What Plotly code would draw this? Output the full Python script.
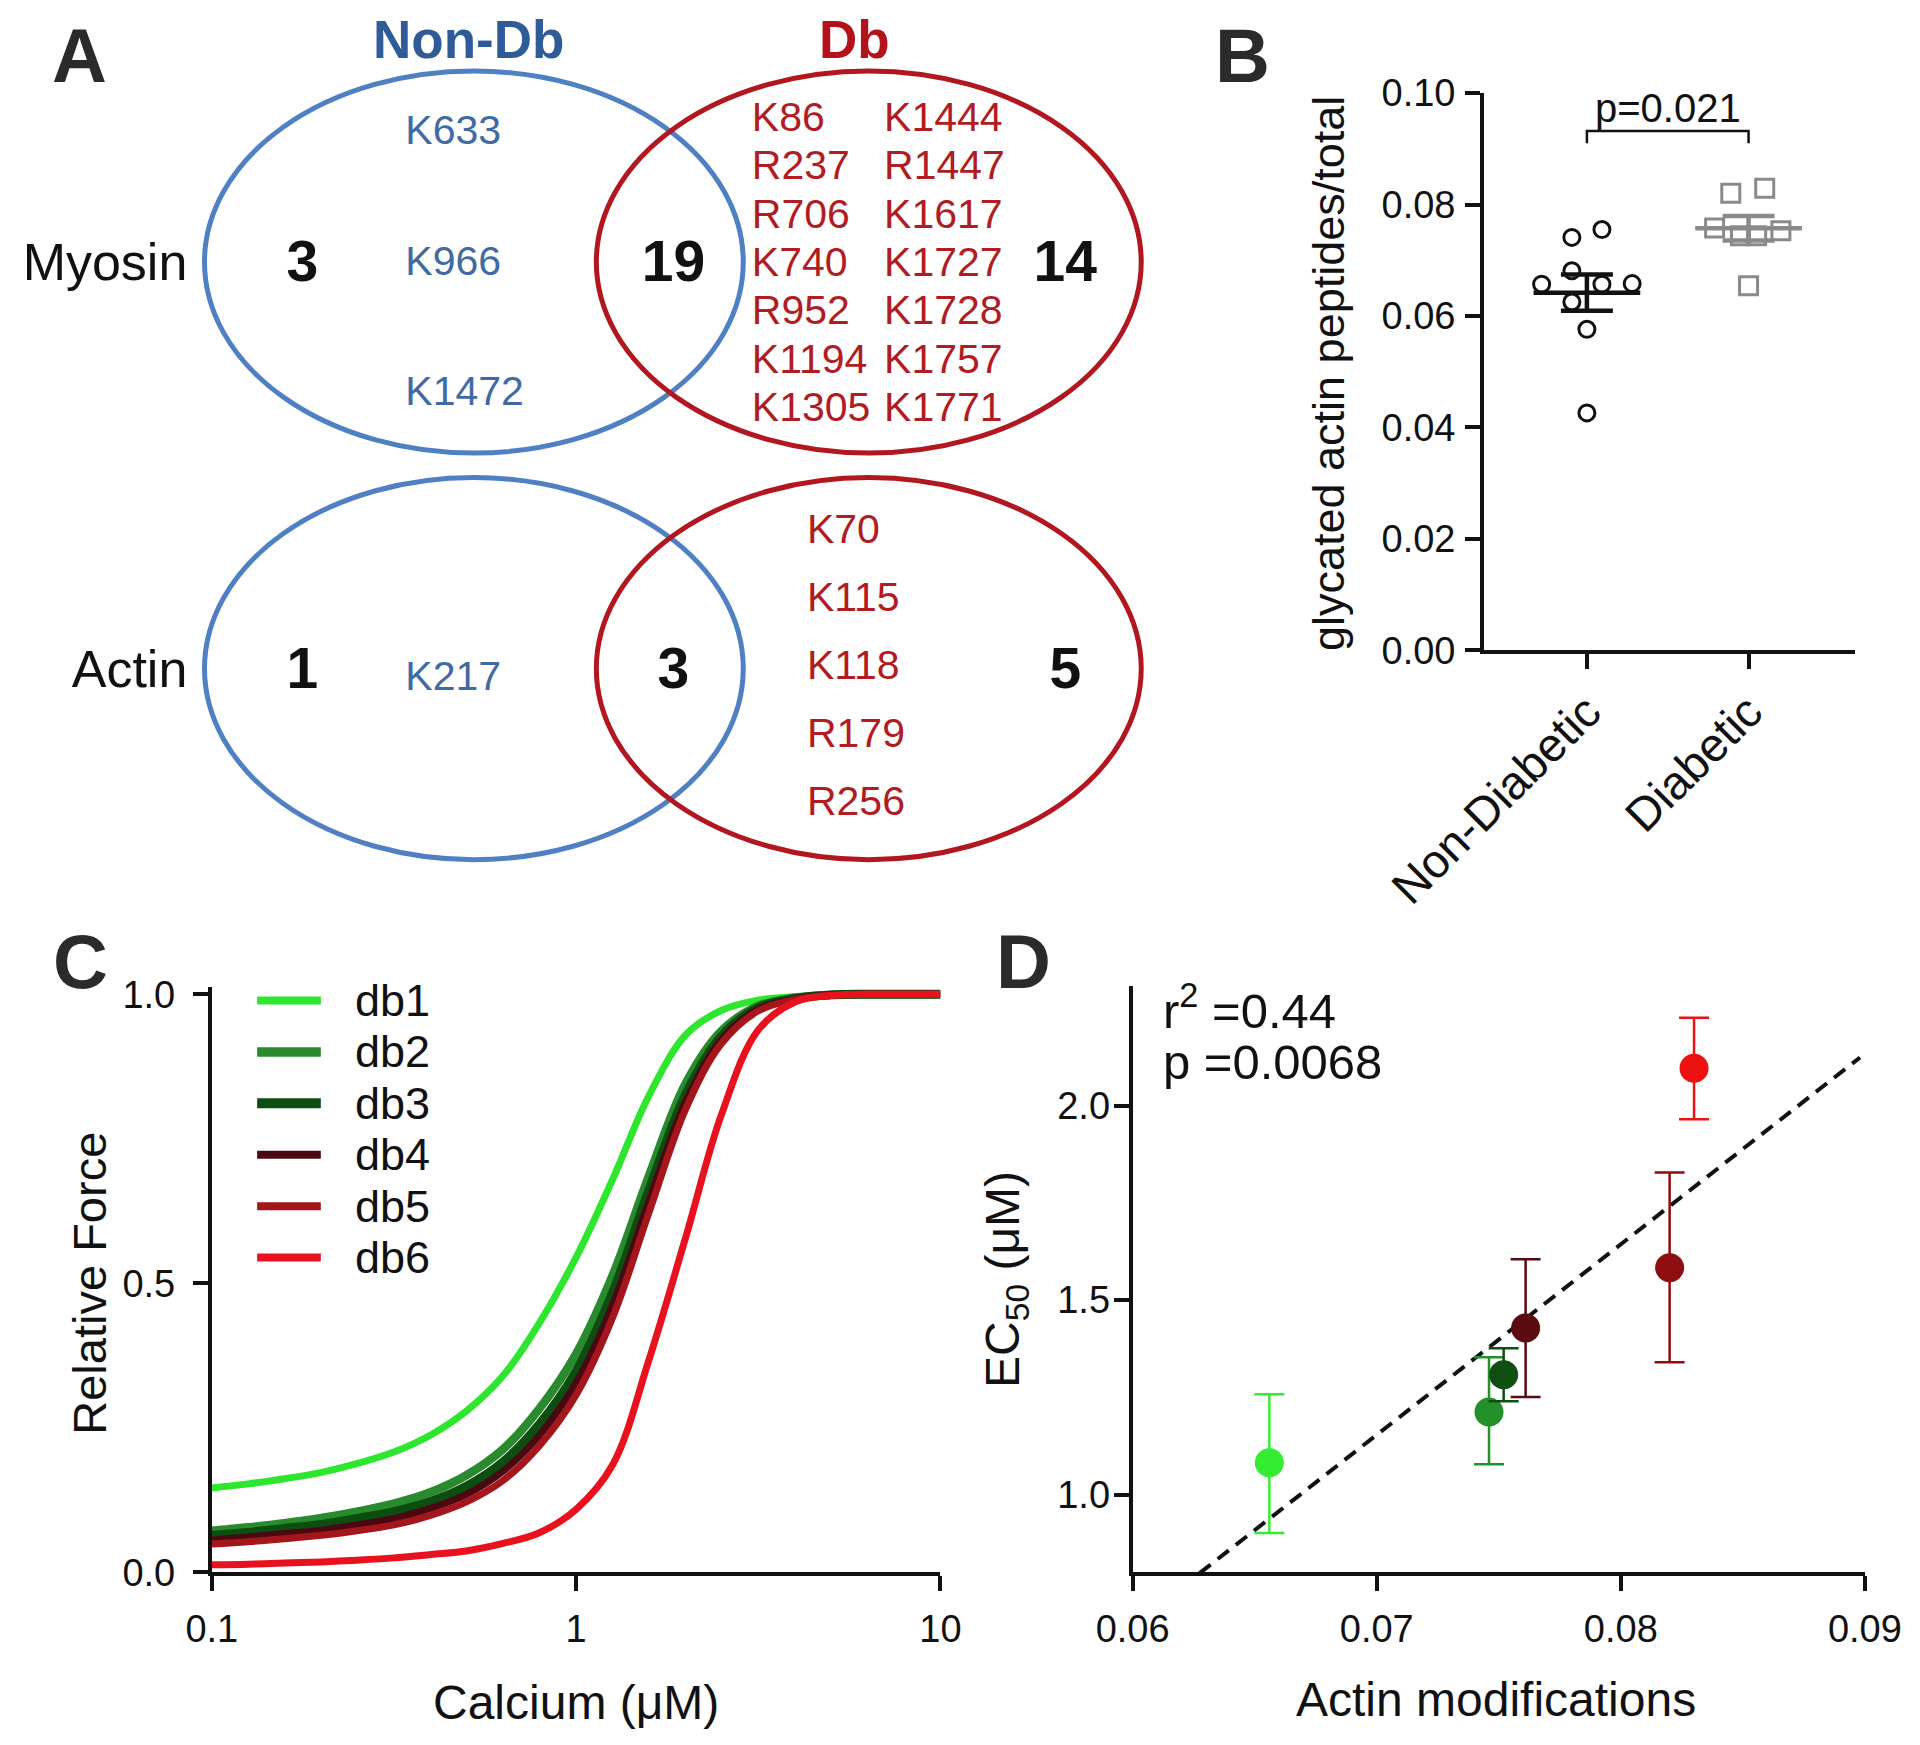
import numpy as np
import plotly.graph_objects as go

FONT = "Liberation Sans, Arial, Helvetica, sans-serif"
BLACK = "#111111"

# ---------------- Panel A : Venn diagrams (data) ----------------
venn_headers = ["Non-Db", "Db"]
venn_rows = ["Myosin", "Actin"]
myosin_counts = [3, 19, 14]          # Non-Db only, shared, Db only
actin_counts = [1, 3, 5]
myosin_nondb_sites = ["K633", "K966", "K1472"]
myosin_db_sites_col1 = ["K86", "R237", "R706", "K740", "R952", "K1194", "K1305"]
myosin_db_sites_col2 = ["K1444", "R1447", "K1617", "K1727", "K1728", "K1757", "K1771"]
actin_nondb_sites = ["K217"]
actin_db_sites = ["K70", "K115", "K118", "R179", "R256"]

# ---------------- Panel B : glycated actin (data) ----------------
group_labels = ["Non-Diabetic", "Diabetic"]
nondb_values = [0.0741, 0.0755, 0.0681, 0.0657, 0.0657, 0.0658, 0.0625, 0.0576, 0.0426]
db_values = [0.0820, 0.0829, 0.0758, 0.0753, 0.0744, 0.0744, 0.0654]
p_label = "p=0.021"
b_yticks = [0.00, 0.02, 0.04, 0.06, 0.08, 0.10]

# ---------------- Panel C : force-calcium curves (data) ----------------
series_names = ["db1", "db2", "db3", "db4", "db5", "db6"]
calcium_uM = [0.1, 0.126, 0.158, 0.2, 0.25, 0.316, 0.4, 0.5, 0.63, 0.79, 1.0,
              1.26, 1.58, 2.0, 2.5, 3.16, 4.0, 5.0, 6.3, 7.9, 10.0]
force_db1 = [0.146, 0.153, 0.162, 0.173, 0.188, 0.208, 0.238, 0.279, 0.340, 0.430, 0.545,
             0.680, 0.823, 0.930, 0.972, 0.990, 0.996, 0.999, 1.0, 1.0, 1.0]
force_db2 = [0.072, 0.078, 0.085, 0.094, 0.105, 0.119, 0.139, 0.168, 0.213, 0.282, 0.378,
             0.514, 0.684, 0.846, 0.936, 0.980, 0.994, 0.999, 1.0, 1.0, 1.0]
force_db3 = [0.064, 0.069, 0.076, 0.083, 0.093, 0.105, 0.123, 0.149, 0.191, 0.255, 0.348,
             0.484, 0.659, 0.827, 0.927, 0.977, 0.993, 0.999, 1.0, 1.0, 1.0]
force_db4 = [0.056, 0.061, 0.067, 0.073, 0.082, 0.093, 0.111, 0.135, 0.175, 0.236, 0.328,
             0.463, 0.640, 0.815, 0.921, 0.974, 0.992, 0.999, 1.0, 1.0, 1.0]
force_db5 = [0.049, 0.053, 0.058, 0.064, 0.072, 0.082, 0.099, 0.122, 0.159, 0.218, 0.307,
             0.441, 0.620, 0.802, 0.914, 0.971, 0.991, 0.998, 1.0, 1.0, 1.0]
force_db6 = [0.013, 0.014, 0.016, 0.018, 0.021, 0.025, 0.031, 0.037, 0.050, 0.068, 0.109,
             0.186, 0.365, 0.580, 0.790, 0.938, 0.987, 0.998, 1.0, 1.0, 1.0]
c_xticks = [0.1, 1, 10]
c_xticklabels = ["0.1", "1", "10"]
c_yticks = [0.0, 0.5, 1.0]

# ---------------- Panel D : EC50 vs actin modifications (data) ----------------
actin_mods = [0.0656, 0.0746, 0.0752, 0.0761, 0.0820, 0.0830]
ec50_uM = [1.082, 1.212, 1.308, 1.428, 1.583, 2.096]
ec50_err_plus = [0.176, 0.141, 0.068, 0.177, 0.245, 0.130]
ec50_err_minus = [0.181, 0.134, 0.068, 0.177, 0.243, 0.131]
stat_lines = ["r<sup>2</sup> =0.44", "p =0.0068"]
d_xticks = [0.06, 0.07, 0.08, 0.09]
d_yticks = [1.0, 1.5, 2.0]

# ---------------- styles ----------------
BLUE_LINE = "#5080c4"
BLUE_TEXT = "#3f6aa3"
BLUE_HEAD = "#2f5c98"
RED_LINE = "#b2161e"
RED_TEXT = "#b01c22"
curve_colors = ["#2ee62e", "#2a8a2e", "#0c4d10", "#4c0812", "#a3161c", "#e8121e"]
curve_widths = [7, 8.5, 9, 7, 7, 7]
point_colors = ["#35ec35", "#24902a", "#0f4f12", "#5a0a10", "#8e0e12", "#ee1111"]
nondb_offsets = [-0.093, 0.093, -0.093, -0.28, 0.093, 0.28, -0.093, 0.0, 0.0]
db_offsets = [-0.11, 0.10, -0.21, 0.20, -0.05, 0.05, 0.0]

fig = go.Figure()

# ======== Panel A (axes x5/y5 in a pixel-like frame) ========
row_y = [214, 546]
text_dy = 4
count_x = [247, 550, 870]
ell_blue = (167, 607)
ell_red = (487, 932)
ell_half_h = 156

for r, counts in enumerate([myosin_counts, actin_counts]):
    for (x0, x1), col in [(ell_blue, BLUE_LINE), (ell_red, RED_LINE)]:
        fig.add_shape(type="circle", xref="x5", yref="y5", x0=x0, x1=x1,
                      y0=row_y[r] - ell_half_h, y1=row_y[r] + ell_half_h,
                      line=dict(color=col, width=5), layer="below")
    fig.add_trace(go.Scatter(
        x=count_x, y=[row_y[r] + text_dy] * 3, mode="text",
        text=[f"<b>{c}</b>" for c in counts], textposition="middle center",
        textfont=dict(size=57, color=BLACK, family=FONT),
        xaxis="x5", yaxis="y5", hoverinfo="skip"))
    fig.add_trace(go.Scatter(
        x=[153], y=[row_y[r] + text_dy], mode="text", text=[venn_rows[r]],
        textposition="middle left", textfont=dict(size=52, color=BLACK, family=FONT),
        xaxis="x5", yaxis="y5", hoverinfo="skip"))


def site_trace(sites, x, y0, spacing, color):
    n = len(sites)
    ys = [y0 + text_dy + (i - (n - 1) / 2) * spacing for i in range(n)]
    return go.Scatter(x=[x] * n, y=ys, mode="text", text=sites,
                      textposition="middle right",
                      textfont=dict(size=41, color=color, family=FONT),
                      xaxis="x5", yaxis="y5", hoverinfo="skip")


fig.add_trace(site_trace(myosin_nondb_sites, 331, row_y[0] - 2, 106.5, BLUE_TEXT))
fig.add_trace(site_trace(actin_nondb_sites, 331, row_y[1] + 5, 106.5, BLUE_TEXT))
fig.add_trace(site_trace(myosin_db_sites_col1, 614, row_y[0] - 1, 39.5, RED_TEXT))
fig.add_trace(site_trace(myosin_db_sites_col2, 722, row_y[0] - 1, 39.5, RED_TEXT))
fig.add_trace(site_trace(actin_db_sites, 659, row_y[1] - 4, 55.5, RED_TEXT))

# ======== Panel B ========
nd = np.array(nondb_values)
dbv = np.array(db_values)
groups = [(0, nd, nondb_offsets, "circle-open", 16, BLACK),
          (1, dbv, db_offsets, "square-open", 18, "#8a8a8a")]
for xc, vals, offs, sym, sz, col in groups:
    fig.add_trace(go.Scatter(
        x=[xc + o for o in offs], y=vals, mode="markers",
        marker=dict(symbol=sym, size=sz, color=col, line=dict(width=3, color=col)),
        xaxis="x", yaxis="y", hoverinfo="skip"))
for xc, vals, offs, sym, sz, col in groups:
    mean = float(np.mean(vals))
    sem = float(np.std(vals, ddof=1) / np.sqrt(len(vals)))
    fig.add_trace(go.Scatter(
        x=[xc - 0.33, xc + 0.33], y=[mean, mean], mode="lines",
        line=dict(color=col, width=4.5), xaxis="x", yaxis="y", hoverinfo="skip"))
    fig.add_trace(go.Scatter(
        x=[xc], y=[mean], mode="markers",
        marker=dict(size=1, color="rgba(0,0,0,0)"),
        error_y=dict(type="data", array=[sem], color=col, thickness=4.5, width=26),
        xaxis="x", yaxis="y", hoverinfo="skip"))

fig.add_trace(go.Scatter(
    x=[0, 0, 1, 1], y=[0.0910, 0.0932, 0.0932, 0.0910], mode="lines",
    line=dict(color=BLACK, width=2.5), xaxis="x", yaxis="y", hoverinfo="skip"))
fig.add_annotation(x=0.5, y=0.0973, xref="x", yref="y", text=p_label, showarrow=False,
                   font=dict(size=40, color=BLACK, family=FONT))

# ======== Panel C ========
curves = [force_db1, force_db2, force_db3, force_db4, force_db5, force_db6]
for name, ys, col, w in zip(series_names, curves, curve_colors, curve_widths):
    fig.add_trace(go.Scatter(
        x=calcium_uM, y=ys, mode="lines", name=name,
        line=dict(color=col, width=w, shape="spline", smoothing=1.0),
        xaxis="x2", yaxis="y2", hoverinfo="skip"))

# manual legend for panel C
leg_y0 = 817
leg_dy = 42
for i, (name, col, w) in enumerate(zip(series_names, curve_colors, curve_widths)):
    yy = 1 - (leg_y0 + i * leg_dy) / 1425
    fig.add_shape(type="line", xref="paper", yref="paper",
                  x0=210 / 1568, x1=262 / 1568, y0=yy, y1=yy,
                  line=dict(color=col, width=w + 1))
    fig.add_annotation(x=288 / 1568, y=yy, xref="paper", yref="paper", text=name,
                       xanchor="left", yanchor="middle", showarrow=False,
                       font=dict(size=45, color=BLACK, family=FONT))

# ======== Panel D ========
coef = np.polyfit(actin_mods, ec50_uM, 1)
fit_x = np.array([0.0620, 0.0898])
fig.add_trace(go.Scatter(
    x=fit_x, y=np.polyval(coef, fit_x), mode="lines",
    line=dict(color=BLACK, width=4, dash="14px,9px"),
    xaxis="x3", yaxis="y3", hoverinfo="skip"))
for xm, ym, ep, em, col in zip(actin_mods, ec50_uM, ec50_err_plus, ec50_err_minus, point_colors):
    fig.add_trace(go.Scatter(
        x=[xm], y=[ym], mode="markers",
        marker=dict(size=29, color=col, line=dict(width=0)),
        error_y=dict(type="data", symmetric=False, array=[ep], arrayminus=[em],
                     color=col, thickness=2.5, width=15),
        xaxis="x3", yaxis="y3", hoverinfo="skip"))
for i, s in enumerate(stat_lines):
    fig.add_annotation(x=948 / 1568, y=1 - (822 + i * 45) / 1425, xref="paper", yref="paper",
                       text=s, xanchor="left", yanchor="middle", showarrow=False,
                       font=dict(size=49, color=BLACK, family=FONT))

# ======== Axes ========
def ax(**kw):
    base = dict(showline=True, linecolor=BLACK, linewidth=4, ticks="outside", ticklen=15,
                tickwidth=4, tickcolor=BLACK, showgrid=False, zeroline=False,
                automargin=False,
                tickfont=dict(size=38, family=FONT, color=BLACK), fixedrange=True)
    base.update(kw)
    return base


fig.update_layout(
    width=1920, height=1745, autosize=False,
    margin=dict(l=0, r=0, t=0, b=0, pad=0, autoexpand=False),
    paper_bgcolor="white", plot_bgcolor="white", showlegend=False,
    font=dict(family=FONT, color=BLACK),
    # Panel B
    xaxis=ax(domain=[1212 / 1568, 1515 / 1568], range=[-0.636, 1.659], anchor="y",
             tickvals=[0, 1], ticktext=group_labels, tickangle=-45,
             tickfont=dict(size=47, family=FONT, color=BLACK), ticklabelstandoff=-4),
    yaxis=ax(domain=[1 - 531 / 1425, 1 - 76 / 1425], range=[0, 0.10], anchor="x",
             tickvals=b_yticks, tickformat=".2f", ticklabelstandoff=2),
    # Panel C
    xaxis2=ax(domain=[173 / 1568, 768 / 1568], type="log", range=[-1, 1], anchor="y2",
              tickvals=c_xticks, ticktext=c_xticklabels, ticklabelstandoff=5),
    yaxis2=ax(domain=[1 - 1284 / 1425, 1 - 806.3 / 1425], range=[0, 1.012], anchor="x2",
              tickvals=c_yticks, tickformat=".1f", ticklabelstandoff=10),
    # Panel D
    xaxis3=ax(domain=[925 / 1568, 1523 / 1568], range=[0.06, 0.09], anchor="y3",
              tickvals=d_xticks, tickformat=".2f", ticklabelstandoff=5),
    yaxis3=ax(domain=[1 - 1284 / 1425, 1 - 805 / 1425], range=[0.8, 2.308], anchor="x3",
              tickvals=d_yticks, tickformat=".1f", ticklabelstandoff=-4),
    # Panel A frame
    xaxis5=dict(domain=[0, 960 / 1568], range=[0, 960], visible=False, anchor="y5",
                fixedrange=True, automargin=False),
    yaxis5=dict(domain=[1 - 720 / 1425, 1], range=[720, 0], visible=False, anchor="x5",
                fixedrange=True, automargin=False),
)

# ======== Text annotations: headers, panel letters, axis titles ========
def pann(x, y, text, size, color=BLACK, bold=False, angle=0, xanchor="center"):
    fig.add_annotation(x=x / 1568, y=1 - y / 1425, xref="paper", yref="paper",
                       text=f"<b>{text}</b>" if bold else text, showarrow=False,
                       textangle=angle, xanchor=xanchor, yanchor="middle",
                       font=dict(size=size, color=color, family=FONT))


pann(383, 32, venn_headers[0], 53, BLUE_HEAD, bold=True)
pann(698, 32, venn_headers[1], 53, "#b3121b", bold=True)
for letter, (lx, ly) in zip("ABCD", [(65, 45), (1015, 45), (66, 785), (836, 785)]):
    pann(lx, ly, letter, 76, "#2b2b2b", bold=True)
pann(1085, 305, "glycated actin peptides/total", 45, angle=-90)
pann(73, 1048, "Relative Force", 47, angle=-90)
pann(470, 1390, "Calcium (\u03bcM)", 48)
pann(821, 1045, "EC<sub>50</sub> (\u03bcM)", 48, angle=-90)
pann(1222, 1388, "Actin modifications", 48)

fig.write_html("out.html", config={"displayModeBar": False},
               post_script="document.body.style.margin='0px';")
